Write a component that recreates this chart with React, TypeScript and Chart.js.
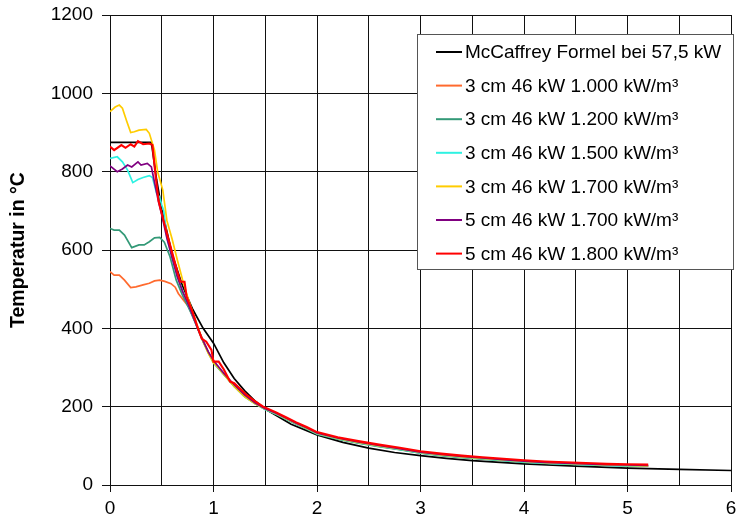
import React, { useEffect, useRef } from 'react';
import { Chart, registerables } from 'chart.js';

Chart.register(...registerables);

// ---- Data ----
const seriesLabels = [
  'McCaffrey Formel bei 57,5 kW',
  '3 cm 46 kW 1.000 kW/m³',
  '3 cm 46 kW 1.200 kW/m³',
  '3 cm 46 kW 1.500 kW/m³',
  '3 cm 46 kW 1.700 kW/m³',
  '5 cm 46 kW 1.700 kW/m³',
  '5 cm 46 kW 1.800 kW/m³',
];
const seriesColors = ['#000000', '#ff6a2e', '#339977', '#2ef2e2', '#ffcc00', '#800080', '#ff0000'];

const xTicks = [0, 1, 2, 3, 4, 5, 6];
const yTicks = [0, 200, 400, 600, 800, 1000, 1200];

// McCaffrey (black)
const blackX = [0, 0.4, 0.45, 0.5, 0.6, 0.7, 0.8, 0.9, 1.0, 1.1, 1.2, 1.3, 1.4, 1.5, 1.75, 2.0, 2.25, 2.5, 2.75, 3.0, 3.25, 3.5, 4.0, 4.5, 5.0, 5.5, 6.0];
const blackT = [875, 875, 780, 704, 590, 509, 448, 400, 362, 312, 272, 241, 215, 194, 155, 128, 109, 94, 83, 75, 68, 62, 54, 48, 43, 40, 37];

// shared tail heights for simulation series
const tailX = [1.6, 1.7, 1.8, 1.9, 2.0, 2.2, 2.4, 2.6, 2.8, 3.0, 3.2, 3.4, 3.6, 3.8, 4.0, 4.2, 4.4, 4.6, 4.8, 5.0, 5.2];

// 3 cm 1.000 (orange)
const orangeX = [0, 0.04, 0.09, 0.14, 0.2, 0.25, 0.32, 0.38, 0.43, 0.48, 0.53, 0.59, 0.63, 0.66, 0.71, 0.76, 0.8, 0.85, 0.9, 0.95, 1.0, 1.1, 1.2, 1.3, 1.4, 1.5];
const orangeT = [545, 536, 536, 523, 504, 506, 511, 515, 521, 523, 520, 514, 505, 489, 472, 455, 430, 400, 368, 340, 314, 283, 253, 227, 209, 194];
const orangeTail = [182, 169, 156, 144, 131, 118, 108, 99, 91, 82, 76, 71, 67, 63, 59, 56, 54, 52, 51, 50, 49];

// 3 cm 1.200 (green)
const greenX = [0, 0.04, 0.09, 0.14, 0.21, 0.28, 0.33, 0.38, 0.43, 0.48, 0.525, 0.58, 0.64, 0.7, 0.74, 0.8, 0.85, 0.9, 0.95, 1.0, 1.1, 1.2, 1.3, 1.4, 1.5];
const greenT = [655, 651, 651, 638, 606, 613, 613, 621, 631, 632, 620, 583, 523, 485, 464, 430, 398, 366, 338, 312, 282, 252, 226, 208, 193];
const greenTail = [181, 168, 155, 143, 130, 117, 107, 98, 90, 81, 75, 70, 66, 62, 58, 55, 53, 51, 50, 49, 48];

// 3 cm 1.500 (cyan)
const cyanX = [0, 0.07, 0.12, 0.17, 0.22, 0.27, 0.32, 0.38, 0.41, 0.45, 0.48, 0.5, 0.52, 0.55, 0.6, 0.65, 0.7, 0.75, 0.8, 0.85, 0.9, 0.95, 1.0, 1.1, 1.2, 1.3, 1.4, 1.5];
const cyanT = [834, 838, 825, 804, 772, 780, 785, 790, 785, 745, 735, 715, 700, 632, 582, 534, 496, 465, 432, 398, 366, 338, 312, 282, 252, 226, 208, 193];
const cyanTail = [182, 169, 156, 144, 131, 118, 108, 99, 91, 82, 76, 71, 67, 63, 59, 56, 54, 52, 50, 49, 48];

// 3 cm 1.700 (yellow)
const yellowX = [0, 0.05, 0.09, 0.12, 0.16, 0.2, 0.235, 0.28, 0.35, 0.38, 0.43, 0.46, 0.51, 0.55, 0.6, 0.65, 0.7, 0.75, 0.8, 0.85, 0.9, 0.95, 1.0, 1.05, 1.1, 1.2, 1.3, 1.4, 1.5];
const yellowT = [953, 965, 970, 962, 930, 900, 902, 906, 908, 898, 855, 800, 753, 675, 628, 575, 525, 480, 440, 402, 366, 336, 312, 298, 282, 252, 226, 208, 194];
const yellowTail = [183, 170, 157, 145, 132, 119, 109, 100, 92, 83, 77, 72, 68, 64, 60, 57, 55, 53, 51, 50, 49];

// 5 cm 1.700 (purple)
const purpleX = [0, 0.07, 0.12, 0.17, 0.21, 0.27, 0.3, 0.36, 0.4, 0.44, 0.47, 0.5, 0.55, 0.6, 0.65, 0.7, 0.75, 0.8, 0.85, 0.9, 0.95, 1.0, 1.1, 1.2, 1.3, 1.4, 1.5];
const purpleT = [815, 800, 807, 817, 812, 825, 817, 821, 812, 760, 722, 690, 630, 580, 532, 495, 465, 432, 398, 368, 340, 318, 285, 256, 230, 210, 195];
const purpleTail = [184, 171, 158, 146, 133, 120, 110, 101, 93, 84, 78, 73, 69, 65, 61, 58, 56, 54, 52, 51, 50];

// 5 cm 1.800 (red)
const redX = [0, 0.04, 0.11, 0.15, 0.2, 0.235, 0.27, 0.32, 0.38, 0.41, 0.44, 0.47, 0.5, 0.55, 0.6, 0.65, 0.68, 0.72, 0.74, 0.8, 0.85, 0.886, 0.93, 0.98, 1.0, 1.05, 1.1, 1.16, 1.2, 1.26, 1.32, 1.4, 1.48];
const redT = [864, 855, 868, 861, 870, 864, 878, 870, 872, 868, 791, 725, 693, 642, 594, 545, 519, 519, 481, 440, 400, 374, 366, 345, 315, 315, 295, 264, 260, 245, 230, 214, 200];
const redTail = [186, 173, 160, 148, 135, 122, 112, 103, 95, 86, 80, 75, 71, 67, 63, 60, 58, 56, 54, 53, 52];

const FONT = '"Liberation Sans", Arial, sans-serif';

function pts(xs: number[], ys: number[], tx?: number[], ty?: number[]) {
  const out = xs.map((x, i) => ({ x, y: ys[i] }));
  if (tx && ty) tx.forEach((x, i) => out.push({ x, y: ty[i] }));
  return out;
}

export default function App() {
  const ref = useRef<HTMLCanvasElement>(null);

  useEffect(() => {
    const canvas = ref.current;
    if (!canvas) return;

    const seriesData = [
      pts(blackX, blackT),
      pts(orangeX, orangeT, tailX, orangeTail),
      pts(greenX, greenT, tailX, greenTail),
      pts(cyanX, cyanT, tailX, cyanTail),
      pts(yellowX, yellowT, tailX, yellowTail),
      pts(purpleX, purpleT, tailX, purpleTail),
      pts(redX, redT, tailX, redTail),
    ];
    const drawOrder = [6, 5, 4, 3, 2, 1, 0];
    const widths = [1.7, 1.7, 1.7, 1.7, 1.7, 1.7, 2.1];

    const legendPlugin = {
      id: 'boxLegend',
      afterDraw(chart: any) {
        const c = chart.ctx as CanvasRenderingContext2D;
        const area = chart.chartArea;
        const left = area.right - 313.5;
        const top = area.top + 19.5;
        const w = 316;
        const h = 235;
        c.save();
        c.fillStyle = '#ffffff';
        c.fillRect(left, top, w, h);
        c.strokeStyle = '#555555';
        c.lineWidth = 1;
        c.strokeRect(left, top, w, h);
        c.font = '19px ' + FONT;
        c.textBaseline = 'middle';
        c.textAlign = 'left';
        seriesLabels.forEach((label, i) => {
          const y = top + 17.5 + i * 33.6;
          c.strokeStyle = seriesColors[i];
          c.lineWidth = 2;
          c.beginPath();
          c.moveTo(left + 18.5, y);
          c.lineTo(left + 44.5, y);
          c.stroke();
          c.fillStyle = '#000000';
          c.fillText(label, left + 47.5, y + 1);
        });
        c.restore();
      },
    };

    const chart = new Chart(canvas, {
      type: 'line',
      data: {
        datasets: seriesLabels.map((label, i) => ({
          label,
          data: seriesData[i],
          borderColor: seriesColors[i],
          backgroundColor: seriesColors[i],
          borderWidth: widths[i],
          pointRadius: 0,
          tension: 0,
          fill: false,
          order: drawOrder[i],
        })),
      },
      options: {
        responsive: false,
        animation: false,
        devicePixelRatio: 1,
        layout: { padding: { top: 15, right: 6, bottom: 0, left: 0 } },
        plugins: {
          legend: { display: false },
          tooltip: { enabled: false },
        },
        scales: {
          x: {
            type: 'linear',
            min: xTicks[0],
            max: xTicks[xTicks.length - 1],
            ticks: {
              stepSize: 0.5,
              autoSkip: false,
              maxRotation: 0,
              padding: 5,
              color: '#000',
              font: { family: FONT, size: 19 },
              callback: (v: any) => (xTicks.includes(Number(v)) ? String(v) : ''),
            },
            grid: {
              color: '#111',
              lineWidth: 1,
              tickLength: 7,
              tickColor: (ctx: any) =>
                ctx.tick && xTicks.includes(Number(ctx.tick.value)) ? '#111' : 'rgba(0,0,0,0)',
            },
            border: { display: true, color: '#111', width: 1 },
            afterFit: (scale: any) => {
              scale.height = 34;
              scale.paddingLeft = 0;
              scale.paddingRight = 0;
            },
          },
          y: {
            type: 'linear',
            min: yTicks[0],
            max: yTicks[yTicks.length - 1],
            ticks: {
              stepSize: 200,
              padding: 9,
              color: '#000',
              font: { family: FONT, size: 19 },
              callback: (v: any) => String(v),
            },
            grid: { color: '#111', lineWidth: 1, tickLength: 8, tickColor: '#111' },
            border: { display: true, color: '#111', width: 1 },
            title: {
              display: true,
              text: 'Temperatur in °C',
              color: '#000',
              font: { family: FONT, size: 19.5, weight: 'bold' },
              padding: { top: 7, bottom: 0 },
            },
            afterFit: (scale: any) => {
              scale.width = 110;
              scale.paddingTop = 0;
              scale.paddingBottom = 0;
            },
          },
        },
      },
      plugins: [legendPlugin],
    } as any);

    return () => chart.destroy();
  }, []);

  return (
    <div style={{ position: 'absolute', left: 0, top: 0, width: 737, height: 519, background: '#fff' }}>
      <canvas ref={ref} width={737} height={519} style={{ width: '737px', height: '519px', display: 'block' }} />
    </div>
  );
}
